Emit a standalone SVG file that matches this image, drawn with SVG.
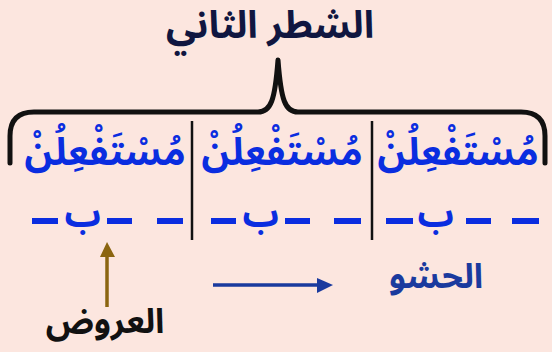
<svg xmlns="http://www.w3.org/2000/svg" width="552" height="352" viewBox="0 0 552 352">
<defs>
<style>
.ar{font-family:"Noto Sans Arabic","DejaVu Sans",sans-serif;font-weight:bold;direction:rtl;text-anchor:middle}
.foot{fill:#0a2de0;font-size:38px}
.syl{fill:#0a2de0;font-size:36px}
.dash{fill:#0a2de0}
.sep{stroke:#111;stroke-width:2.5}
</style>
</defs>
<rect width="552" height="352" fill="#fce6df"/>
<g id="title"><text class="ar" x="270" y="38" font-size="38" fill="#101640">الشطر الثاني</text></g>
<g id="brace"><path d="M10 163 L10 136 Q10 112 34 112 L258 112 C271 112 275 100 278 60 C281 100 285 112 298 112 L521 112 Q545 112 545 136 L545 163" fill="none" stroke="#111" stroke-width="5" stroke-linecap="round" stroke-linejoin="round"/></g>
<g id="separators"><line class="sep" x1="192" y1="121" x2="192" y2="240"/><line class="sep" x1="372" y1="121" x2="372" y2="240"/></g>
<g id="foot1"><text class="ar foot" x="458" y="165">مُسْتَفْعِلُنْ</text>
<rect class="dash" x="386" y="218" width="27" height="6"/><text class="ar syl" x="436" y="226">ب</text><rect class="dash" x="466" y="218" width="25" height="6"/><rect class="dash" x="512" y="218" width="27" height="6"/></g>
<g id="foot2"><text class="ar foot" x="282" y="165">مُسْتَفْعِلُنْ</text>
<rect class="dash" x="211" y="218" width="25" height="6"/><text class="ar syl" x="261" y="226">ب</text><rect class="dash" x="285" y="218" width="25" height="6"/><rect class="dash" x="334" y="218" width="27" height="6"/></g>
<g id="foot3"><text class="ar foot" x="105" y="165">مُسْتَفْعِلُنْ</text>
<rect class="dash" x="32" y="218" width="26" height="6"/><text class="ar syl" x="83" y="226">ب</text><rect class="dash" x="107" y="218" width="25" height="6"/><rect class="dash" x="157" y="218" width="26" height="6"/></g>
<g id="connectors">
<line x1="107" y1="307" x2="107" y2="255" stroke="#8b6510" stroke-width="3.5"/>
<path d="M100 257 L107 242 L115 257 Z" fill="#8b6510"/>
<line x1="213" y1="285" x2="319" y2="285" stroke="#1a3a9e" stroke-width="3.3"/>
<path d="M317 278 L333 285 L317 293 Z" fill="#1a3a9e"/>
</g>
<g id="arud"><text class="ar" x="105" y="333" font-size="34" fill="#111">العروض</text></g>
<g id="hashw"><text class="ar" x="436" y="288" font-size="34" fill="#1a3a9e">الحشو</text></g>
</svg>
